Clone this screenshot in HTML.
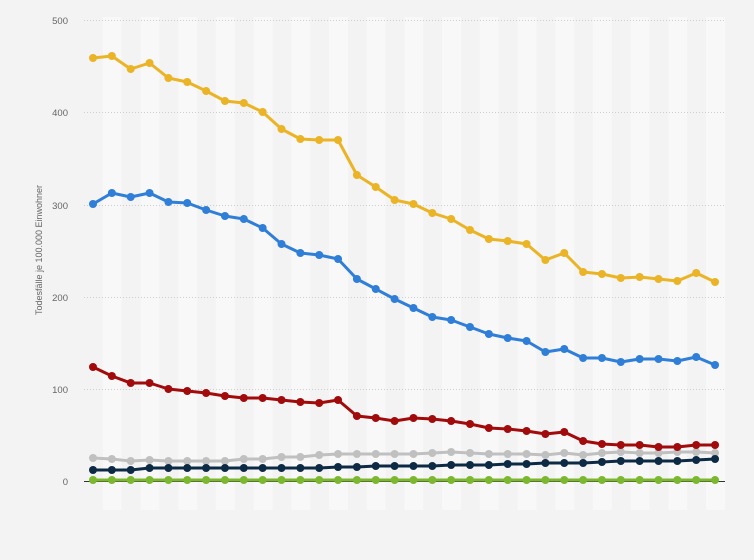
<!DOCTYPE html><html><head><meta charset="utf-8"><style>body{margin:0;background:#f3f3f3}svg{display:block}text{font-family:"Liberation Sans",sans-serif}</style></head><body>
<svg width="754" height="560" xmlns="http://www.w3.org/2000/svg">
<rect width="754" height="560" fill="#f3f3f3"/>
<g id="bands"></g>
<g stroke="#cfcfcf" stroke-dasharray="1,2" stroke-width="1">
<line x1="84" x2="725" y1="20.5" y2="20.5"/><line x1="84" x2="725" y1="112.5" y2="112.5"/><line x1="84" x2="725" y1="205.5" y2="205.5"/><line x1="84" x2="725" y1="297.5" y2="297.5"/><line x1="84" x2="725" y1="389.5" y2="389.5"/>
</g>
<g font-size="9.5" fill="#666" text-anchor="end">
<text x="68" y="24">500</text><text x="68" y="116">400</text><text x="68" y="209">300</text><text x="68" y="301">200</text><text x="68" y="393">100</text><text x="68" y="485">0</text>
</g>
<text transform="translate(42,250) rotate(-90)" font-size="9" fill="#666" text-anchor="middle">Todesfälle je 100.000 Einwohner</text>
<line x1="84" x2="725" y1="481.5" y2="481.5" stroke="#333" stroke-width="1"/>
<g id="series"></g>
</svg>
<script>
const ns="http://www.w3.org/2000/svg";
const b=document.getElementById('bands');
for(let k=0;k<34;k++){if(k%2==1){const r=document.createElementNS(ns,'rect');r.setAttribute('x',84+18.85*k);r.setAttribute('y',17);r.setAttribute('width',18.85);r.setAttribute('height',493);r.setAttribute('fill','#f8f8f8');b.appendChild(r);}}
const S=[
['#c0c0c0',[458,459,461,460,461,461,461,461,459,459,457,457,455,454,454,454,454,454,453,452,453,454,454,454,455,453,455,453,452,453,453,452,452,453]],
['#0d2a45',[470,470,470,468,468,468,468,468,468,468,468,468,468,467,467,466,466,466,466,465,465,465,464,464,463,463,463,462,461,461,461,461,460,459]],
['#7cb82f',Array(34).fill(480)],
['#a10b0b',[367,376,383,383,389,391,393,396,398,398,400,402,403,400,416,418,421,418,419,421,424,428,429,431,434,432,441,444,445,445,447,447,445,445]],
['#2f7ed8',[204,193,197,193,202,203,210,216,219,228,244,253,255,259,279,289,299,308,317,320,327,334,338,341,352,349,358,358,362,359,359,361,357,365]],
['#ebb426',[58,56,69,63,78,82,91,101,103,112,129,139,140,140,175,187,200,204,213,219,230,239,241,244,260,253,272,274,278,277,279,281,273,282]]];
const g=document.getElementById('series');
for(const [c,ys] of S){const p=document.createElementNS(ns,'polyline');p.setAttribute('points',ys.map((y,i)=>(93+18.85*i)+','+y).join(' '));p.setAttribute('fill','none');p.setAttribute('stroke',c);p.setAttribute('stroke-width',3);p.setAttribute('stroke-linejoin','round');g.appendChild(p);
ys.forEach((y,i)=>{const e=document.createElementNS(ns,'circle');e.setAttribute('cx',93+18.85*i);e.setAttribute('cy',y);e.setAttribute('r',4);e.setAttribute('fill',c);g.appendChild(e);});}
</script>
</body></html>
